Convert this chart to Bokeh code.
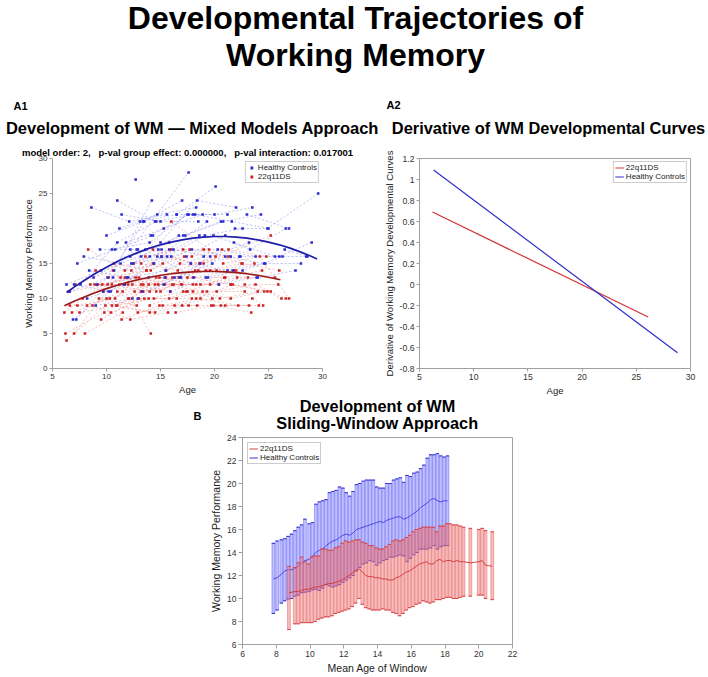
from bokeh.plotting import figure
from bokeh.models import Range1d, FixedTicker, Legend, LegendItem, Label, Title
from bokeh.layouts import column, row
from bokeh.embed import file_html
from bokeh.resources import INLINE

FONT = "Liberation Sans"

# ---------------- A1: longitudinal scores (one inner list per subject) ----------------
hc_age = [
    [6.3, 9.5, 12.8], [6.6, 10.1, 13.5], [6.9, 10.4, 14.0], [7.2, 10.6], [7.3, 10.8, 14.3],
    [7.6, 11.0, 14.6], [7.9, 11.3, 14.8], [8.2, 11.7, 15.1], [8.6, 12.1, 15.6], [8.8, 12.2, 15.8],
    [9.1, 12.5, 16.0], [9.4, 12.9], [9.7, 13.2, 16.7], [10.0, 13.4, 17.0], [12.2, 17.6],
    [10.5, 14.0, 17.5], [10.7, 14.2], [11.0, 14.5, 18.0], [11.2, 14.7, 18.3], [11.4, 15.0, 18.5],
    [11.6, 15.1, 18.6], [11.8, 15.3, 18.9], [12.0, 15.5, 19.0], [12.3, 15.8, 19.3], [12.7],
    [12.9, 16.3, 19.8], [13.1, 16.5, 20.1], [13.3, 16.8], [13.6, 17.1, 20.6], [13.9, 17.4, 21.0],
    [14.1, 17.6, 21.2], [14.4, 17.9, 21.5], [14.7, 18.1, 21.7], [15.0, 18.4, 22.0], [15.3, 18.7, 22.3],
    [15.6, 19.1, 22.6], [15.9, 19.4], [16.2, 19.6, 23.2], [16.5, 20.0, 23.5], [16.9, 20.3, 23.8],
    [17.3, 20.8, 24.3], [17.8, 21.2, 24.7], [18.2, 21.6, 25.0], [21.9, 24.9, 29.6], [19.2, 22.6, 26.3],
    [19.9, 23.3, 26.6], [20.4, 23.9], [21.0, 24.6, 28.0], [21.8, 25.6, 28.5], [22.4, 26.0, 29.0],
    [23.0, 26.9], [9.0, 12.4], [7.0, 10.2], [8.4, 11.9, 15.4], [24.0, 27.5], [26.5, 28.6],
]
hc_wm = [
    [12, 14, 17], [11, 13, 21], [7, 11, 16], [7, 13], [15, 17, 19],
    [12, 18, 21], [16, 15, 17], [10, 12, 17], [23, 21, 22], [13, 16, 18],
    [12, 15, 16], [17, 17], [11, 16, 19], [19, 21, 24], [17, 28],
    [17, 18, 22], [14, 24], [24, 21, 22], [20, 22, 23], [22, 21, 21],
    [12, 16, 19], [18, 20, 22], [13, 14, 16], [15, 17, 21], [27],
    [10, 13, 15], [21, 22, 26], [11, 13], [17, 19, 21], [13, 16, 19],
    [19, 22, 22], [15, 17, 16], [16, 13, 14], [18, 24, 23], [12, 15, 16],
    [16, 19, 20], [11, 13], [17, 16, 18], [22, 22, 23], [13, 17, 16],
    [19, 21, 22], [15, 14, 15], [22, 21, 20], [20, 20, 25], [13, 14, 16],
    [19, 17, 20], [12, 13], [16, 15, 15], [18, 16, 16], [16, 16, 18],
    [22, 20], [9, 10], [12, 11], [14, 13, 13], [13, 14], [17, 16],
]
dz_age = [
    [6.1, 9.6, 13.0], [6.2, 9.8, 13.2], [6.3, 9.9, 13.5], [6.5, 10.1, 13.7], [6.8, 10.3, 13.9],
    [7.0, 10.5, 14.0], [7.3, 10.8, 14.3], [7.5, 11.0, 14.5], [7.8, 11.3, 14.8], [8.0, 11.5],
    [8.3, 11.7, 15.2], [8.5, 12.0, 15.5], [8.7, 12.2, 15.7], [9.0, 12.5, 16.0], [9.2, 12.7, 16.2],
    [9.5, 13.0, 16.5], [9.7, 13.2, 16.7], [10.0, 13.4, 17.0], [10.2, 13.7, 17.2], [10.4, 13.9, 17.4],
    [10.7, 14.1, 17.7], [10.9, 14.4, 17.9], [11.2, 14.6, 18.2], [11.4, 14.9, 18.4], [11.7, 15.1, 18.6],
    [12.0, 15.4, 18.9], [12.3, 16.0, 19.5], [12.6, 16.1, 19.6], [12.9, 16.3, 19.8], [13.2, 16.6, 20.1],
    [13.4, 16.9, 20.4], [12.1, 14.1], [14.0, 17.5, 21.0], [14.3, 17.8, 21.3], [14.6, 18.0, 21.5],
    [14.9, 18.3, 21.8], [15.2, 18.7, 22.2], [15.5, 19.0, 22.5], [15.8, 19.3, 22.8], [16.1, 19.6, 23.1],
    [16.4, 19.9, 23.4], [16.8, 20.2, 23.7], [17.1, 20.5, 24.0], [17.5, 20.9, 24.4], [17.9, 21.3, 24.8],
    [18.3, 21.7, 25.2], [18.7, 22.1, 25.6], [19.2, 22.6, 26.0], [19.7, 23.2], [20.2, 23.8, 26.6],
    [20.8, 24.2, 26.9], [21.5, 24.9, 26.2], [19.0, 25.2], [23.5, 24.5], [6.6, 8.2, 11.5],
    [7.1, 10.6], [9.3, 12.8], [11.0, 14.5, 18.0], [13.6, 17.1, 20.7], [15.0, 18.5, 22.0],
    [17.0, 20.6, 24.1], [18.0, 21.5, 24.6], [8.9, 12.4, 15.9], [10.5, 14.0, 17.6], [21.0],
    [22.8, 25.9],
]
dz_wm = [
    [8, 12, 13], [5, 8, 11], [4, 9, 10], [11, 12, 14], [8, 10, 12],
    [5, 12, 11], [9, 10, 15], [8, 9, 8], [10, 13, 12], [5, 8],
    [17, 14, 15], [12, 12, 13], [9, 7, 8], [14, 15, 17], [12, 13, 12],
    [7, 10, 10], [11, 12, 13], [10, 11, 12], [13, 14, 16], [8, 10, 11],
    [15, 14, 17], [9, 10, 10], [12, 13, 14], [7, 9, 9], [13, 16, 15],
    [10, 12, 11], [14, 21, 17], [11, 13, 14], [8, 9, 10], [15, 14, 16],
    [12, 12, 12], [10, 5], [9, 11, 13], [17, 15, 16], [11, 13, 12],
    [13, 12, 14], [9, 10, 9], [14, 17, 15], [10, 11, 11], [12, 12, 13],
    [8, 9, 8], [15, 14, 15], [11, 10, 11], [13, 13, 14], [16, 17, 16],
    [10, 12, 11], [12, 13, 13], [14, 15, 14], [9, 9], [11, 12, 10],
    [15, 16, 10], [12, 11, 10], [15, 19], [10, 9], [9, 9, 11],
    [12, 14], [10, 9], [11, 12, 12], [16, 17, 17], [11, 14, 14],
    [9, 9, 9], [11, 10, 11], [12, 12, 11], [9, 8, 9], [9],
    [12, 12],
]

# mixed-model fitted curves
hc_fit_age = [6.3, 7, 8, 9, 10, 11, 12, 13, 14, 15, 16, 17, 18, 19, 20, 21, 22, 23, 24, 25, 26, 27, 28, 29, 29.5]
hc_fit_wm = [10.85, 11.62, 12.65, 13.61, 14.48, 15.28, 15.99, 16.63, 17.19, 17.67, 18.06, 18.38, 18.62,
             18.78, 18.86, 18.86, 18.78, 18.62, 18.38, 18.06, 17.67, 17.19, 16.63, 15.99, 15.65]
dz_fit_age = [6.1, 7, 8, 9, 10, 11, 12, 13, 14, 15, 16, 17, 18, 19, 20, 21, 22, 23, 24, 25, 26, 26.1]
dz_fit_wm = [8.96, 9.60, 10.26, 10.86, 11.41, 11.90, 12.33, 12.72, 13.04, 13.32, 13.54, 13.70, 13.81,
             13.86, 13.86, 13.81, 13.70, 13.54, 13.32, 13.04, 12.72, 12.68]

# ---------------- A2: derivative lines ----------------
deriv_dz_age = [6.2, 26.1]
deriv_dz = [0.69, -0.31]
deriv_hc_age = [6.3, 28.8]
deriv_hc = [1.09, -0.65]
a2_yticks = [-0.8, -0.6, -0.4, -0.2, 0, 0.2, 0.4, 0.6, 0.8, 1, 1.2]
a2_ylabels = ["-0.8", "-0.6", "-0.4", "-0.2", "0", "0.2", "0.4", "0.6", "0.8", "1", "1.2"]

# ---------------- B: sliding-window means and ranges ----------------
hc_win_age = [7.83, 8.05, 8.3, 8.5, 8.7, 8.9, 9.1, 9.3, 9.5, 9.7,
              9.95, 10.15, 10.35, 10.55, 10.75, 10.95, 11.15, 11.35, 11.55, 11.75,
              11.95, 12.15, 12.35, 12.55, 12.75, 12.95, 13.15, 13.35, 13.55, 13.75,
              13.95, 14.15, 14.35, 14.55, 14.75, 14.95, 15.15, 15.35, 15.55, 15.75,
              15.95, 16.15, 16.35, 16.55, 16.75, 16.95, 17.15, 17.35, 17.55, 17.75,
              17.95, 18.15]
hc_win_upper = [14.8, 15.0, 15.1, 15.2, 15.4, 15.6, 15.9, 16.2, 16.4, 16.9,
                16.5, 16.6, 18.2, 18.4, 18.5, 18.6, 19.2, 19.3, 19.4, 19.7,
                19.6, 19.2, 18.9, 19.3, 19.9, 20.0, 20.2, 20.3, 20.3, 20.3,
                19.7, 19.6, 19.6, 20.0, 20.0, 20.3, 20.4, 20.5, 20.1, 20.7,
                20.6, 20.9, 21.0, 21.3, 21.6, 22.2, 22.5, 22.5, 22.6, 22.4,
                22.3, 22.4]
hc_win_lower = [8.7, 9.0, 9.6, 9.8, 9.95, 10.0, 10.2, 10.3, 10.5, 10.55,
                10.6, 10.75, 10.8, 10.7, 10.9, 11.2, 11.1, 11.0, 11.1, 11.2,
                11.4, 11.6, 11.8, 12.0, 12.4, 12.7, 13.0, 13.1, 13.3, 13.2,
                12.9, 13.1, 13.3, 13.4, 13.6, 13.6, 13.7, 13.8, 13.7, 13.2,
                13.5, 13.8, 14.0, 14.3, 14.3, 14.3, 14.4, 14.6, 14.3, 14.5,
                14.6, 14.6]
hc_win_mean = [11.7, 11.8, 12.1, 12.4, 12.5, 12.5, 12.6, 12.8, 13.1, 13.3,
               13.4, 13.7, 14.0, 14.2, 14.3, 14.6, 14.8, 15.0, 15.1, 15.3,
               15.5, 15.6, 15.5, 15.7, 16.0, 16.1, 16.2, 16.3, 16.4, 16.5,
               16.6, 16.7, 16.6, 16.8, 16.9, 17.0, 17.1, 17.1, 16.9, 17.0,
               17.2, 17.4, 17.6, 17.9, 18.1, 18.3, 18.6, 18.7, 18.5, 18.4,
               18.5, 18.5]

dz_win_age = [8.75,
              9.1, 9.3, 9.5, 9.7, 9.9, 10.1, 10.3, 10.5, 10.7, 10.9,
              11.1, 11.3, 11.5, 11.7, 11.9, 12.1, 12.3, 12.5, 12.7, 12.9,
              13.1, 13.3, 13.5, 13.7, 13.9, 14.1, 14.3, 14.5, 14.7, 14.9,
              15.1, 15.3, 15.5, 15.7, 15.9, 16.1, 16.3, 16.5, 16.7, 16.9,
              17.1, 17.3, 17.5, 17.7, 17.9, 18.1, 18.3, 18.5, 18.7, 18.9,
              19.1, 19.5, 20.0, 20.2, 20.4, 20.8]
dz_win_upper = [12.8,
                12.7, 13.1, 13.6, 13.2, 13.0, 13.6, 13.7, 13.7, 14.3, 14.3,
                14.2, 14.2, 14.4, 14.5, 14.8, 15.0, 14.9, 15.0, 15.1, 15.1,
                14.9, 14.8, 14.6, 14.6, 14.4, 14.3, 14.3, 14.5, 14.7, 15.0,
                15.1, 15.0, 15.1, 15.3, 15.5, 15.8, 16.0, 16.1, 16.2, 16.2,
                16.2, 16.2, 15.8, 16.3, 16.3, 16.5, 16.5, 16.4, 16.4, 16.3,
                16.2, 16.1, 16.0, 16.1, 15.9, 15.8]
dz_win_lower = [7.3,
                7.8, 7.8, 7.9, 7.9, 7.9, 7.9, 8.0, 8.2, 8.3, 8.4,
                8.4, 8.5, 8.7, 8.8, 8.9, 9.0, 9.1, 9.3, 9.6, 10.0,
                9.5, 9.2, 9.1, 9.0, 9.0, 9.0, 9.1, 9.0, 9.0, 8.8,
                8.7, 8.5, 8.7, 9.0, 9.2, 9.3, 9.5, 9.6, 9.8, 9.7,
                9.6, 9.7, 9.9, 9.9, 10.0, 10.1, 10.1, 10.0, 10.0, 10.1,
                10.2, 10.2, 10.3, 10.3, 10.0, 9.9]
dz_win_mean = [10.5,
               10.6, 10.6, 10.7, 10.8, 10.8, 10.9, 11.0, 11.0, 11.1, 11.2,
               11.3, 11.3, 11.4, 11.5, 11.6, 11.8, 12.0, 12.2, 12.4, 12.6,
               12.3, 12.0, 11.9, 11.9, 11.8, 11.8, 11.7, 11.7, 11.6, 11.6,
               11.8, 11.9, 12.1, 12.3, 12.4, 12.6, 12.8, 13.0, 13.1, 13.2,
               13.0, 13.0, 13.3, 13.4, 13.2, 13.3, 13.3, 13.2, 13.3, 13.2,
               13.2, 13.1, 13.2, 13.3, 12.9, 12.8]

# ---------------- styling helpers ----------------
AX_GRAY = "#a0a0a0"


def style_axis(ax, tick_px, label_px, tick_out=4):
    ax.axis_line_color = AX_GRAY
    ax.major_tick_line_color = AX_GRAY
    ax.minor_tick_line_color = None
    ax.major_tick_out = tick_out
    ax.major_tick_in = 0
    ax.major_label_text_font = FONT
    ax.major_label_text_font_size = f"{tick_px}px"
    ax.major_label_text_color = "#333333"
    ax.major_label_standoff = 2
    ax.axis_label_text_font = FONT
    ax.axis_label_text_font_size = f"{label_px}px"
    ax.axis_label_text_font_style = "normal"
    ax.axis_label_text_color = "#222222"
    ax.axis_label_standoff = 2


def base_fig(**kw):
    p = figure(output_backend="svg", toolbar_location=None, title=None, **kw)
    p.grid.visible = False
    p.background_fill_color = "white"
    p.border_fill_color = "white"
    return p


def text_fig(width, height, y_top, y_bottom, items):
    """Text-only strip; each item is (text, x, baseline_y, font_px, align) in page pixels."""
    f = base_fig(width=width, height=height, x_range=Range1d(0, width),
                 y_range=Range1d(y_bottom, y_top), min_border=0,
                 min_border_left=0, min_border_right=0, min_border_top=0, min_border_bottom=0)
    f.axis.visible = False
    f.outline_line_color = None
    for txt, x, base, size, align in items:
        f.add_layout(Label(x=x, y=base - 0.32 * size, text=txt, text_font=FONT,
                           text_font_size=f"{size}px", text_font_style="bold", text_align=align,
                           text_baseline="alphabetic", text_color="black"))
    f.scatter([x for _, x, _, _, _ in items[:1]], [y for _, _, y, _, _ in items[:1]], size=0, alpha=0)
    return f


def style_legend(lg, font_px):
    lg.label_text_font = FONT
    lg.label_text_font_size = f"{font_px}px"
    lg.label_text_color = "#222222"
    lg.label_height = 7
    lg.glyph_height = 7
    lg.glyph_width = 9
    lg.label_standoff = 2
    lg.spacing = 0
    lg.padding = 1
    lg.margin = 3
    lg.border_line_color = "#999999"
    lg.border_line_width = 1
    lg.background_fill_alpha = 1.0


# ---------------- header (page y 0..140) ----------------
head = text_fig(708, 140, 0, 140, [
    ("Developmental Trajectories of", 355, 28, 32, "center"),
    ("Working Memory", 355, 65, 32, "center"),
    ("A1", 13, 109, 11, "left"),
    ("A2", 386, 108.5, 11, "left"),
    ("Development of WM \u2014 Mixed Models Approach", 192, 133, 16.5, "center"),
    ("Derivative of WM Developmental Curves", 548, 133, 16.4, "center"),
])

# ---------------- A1 ----------------
p1 = base_fig(width=362, height=258, x_range=Range1d(5, 30), y_range=Range1d(0, 30),
              min_border_left=52, min_border_right=40, min_border_top=18, min_border_bottom=28,
              x_axis_label="Age", y_axis_label="Working Memory Performance")
p1.outline_line_color = None
p1.xaxis.ticker = FixedTicker(ticks=[5, 10, 15, 20, 25, 30])
p1.yaxis.ticker = FixedTicker(ticks=[0, 5, 10, 15, 20, 25, 30])
style_axis(p1.xaxis[0], 8, 9.5, tick_out=3)
style_axis(p1.yaxis[0], 8, 9.5, tick_out=3)

p1.multi_line(dz_age, dz_wm, line_color="#e06a6a", line_alpha=0.6, line_width=0.7, line_dash="2 2")
p1.multi_line(hc_age, hc_wm, line_color="#6a6ae6", line_alpha=0.6, line_width=0.7, line_dash="2 2")
dz_pts = p1.scatter([a for s in dz_age for a in s], [w for s in dz_wm for w in s], marker="square",
                    size=2.6, color="#cc2222", line_width=0)
hc_pts = p1.scatter([a for s in hc_age for a in s], [w for s in hc_wm for w in s], marker="square",
                    size=2.6, color="#2b2bd2", line_width=0)
p1.line(dz_fit_age, dz_fit_wm, line_color="#9b1a1a", line_width=1.7)
p1.line(hc_fit_age, hc_fit_wm, line_color="#1e1ea8", line_width=1.7)

lg1 = Legend(items=[LegendItem(label="Healthy Controls", renderers=[hc_pts]),
                    LegendItem(label="22q11DS", renderers=[dz_pts])], location="top_right")
style_legend(lg1, 8)
p1.add_layout(lg1)
p1.add_layout(Title(text="model order: 2,\u00a0\u00a0 p-val group effect: 0.000000,\u00a0\u00a0 p-val interaction: 0.017001",
                    text_font=FONT, text_font_size="9.5px", text_font_style="bold", align="center",
                    standoff=1, text_color="black"), "above")

# ---------------- A2 ----------------
p2 = base_fig(width=346, height=258, x_range=Range1d(5, 30), y_range=Range1d(-0.8, 1.2),
              min_border_left=57, min_border_right=18, min_border_top=17, min_border_bottom=27,
              x_axis_label="Age", y_axis_label="Derivative of Working Memory Developmental Curves")
p2.outline_line_color = AX_GRAY
p2.xaxis.ticker = FixedTicker(ticks=[5, 10, 15, 20, 25, 30])
p2.yaxis.ticker = FixedTicker(ticks=a2_yticks)
p2.yaxis.major_label_overrides = dict(zip(a2_yticks, a2_ylabels))
style_axis(p2.xaxis[0], 8.7, 9.5, tick_out=3)
style_axis(p2.yaxis[0], 8.7, 9.5, tick_out=3)

l_dz = p2.line(deriv_dz_age, deriv_dz, line_color="#d43434", line_width=1.2)
l_hc = p2.line(deriv_hc_age, deriv_hc, line_color="#2e2ec8", line_width=1.2)
lg2 = Legend(items=[LegendItem(label="22q11DS", renderers=[l_dz]),
                    LegendItem(label="Healthy Controls", renderers=[l_hc])], location="top_right")
style_legend(lg2, 8)
p2.add_layout(lg2)

# ---------------- B header (page y 398..433) ----------------
bhead = text_fig(708, 35, 398, 433, [
    ("Development of WM", 377, 411, 16.3, "center"),
    ("Sliding-Window Approach", 377, 428, 16.3, "center"),
    ("B", 193, 419, 11, "left"),
])

# ---------------- B ----------------
p3 = base_fig(width=708, height=244, x_range=Range1d(6, 22), y_range=Range1d(6, 24),
              min_border_left=242, min_border_right=196, min_border_top=4, min_border_bottom=33,
              x_axis_label="Mean Age of Window", y_axis_label="Working Memory Performance")
p3.outline_line_color = AX_GRAY
p3.xaxis.ticker = FixedTicker(ticks=[6, 8, 10, 12, 14, 16, 18, 20, 22])
p3.yaxis.ticker = FixedTicker(ticks=[6, 8, 10, 12, 14, 16, 18, 20, 22, 24])
style_axis(p3.xaxis[0], 8.5, 10.5, tick_out=4)
style_axis(p3.yaxis[0], 8.5, 10.5, tick_out=4)

CAP = 0.1
p3.vbar(x=hc_win_age, bottom=hc_win_lower, top=hc_win_upper, width=0.17,
        fill_color="#8080ff", fill_alpha=0.5, line_color="#5c5cf0", line_alpha=0.75, line_width=0.6)
hc_cap = p3.segment([a - CAP for a in hc_win_age], hc_win_upper, [a + CAP for a in hc_win_age], hc_win_upper,
                    line_color="#3636d0", line_width=1)
p3.segment([a - CAP for a in hc_win_age], hc_win_lower, [a + CAP for a in hc_win_age], hc_win_lower,
           line_color="#3636d0", line_width=1)
p3.line(hc_win_age, hc_win_mean, line_color="#3c3ce0", line_width=0.9)

p3.vbar(x=dz_win_age, bottom=dz_win_lower, top=dz_win_upper, width=0.17,
        fill_color="#f07a7a", fill_alpha=0.5, line_color="#e45c5c", line_alpha=0.75, line_width=0.6)
dz_cap = p3.segment([a - CAP for a in dz_win_age], dz_win_upper, [a + CAP for a in dz_win_age], dz_win_upper,
                    line_color="#d64545", line_width=1)
p3.segment([a - CAP for a in dz_win_age], dz_win_lower, [a + CAP for a in dz_win_age], dz_win_lower,
           line_color="#d64545", line_width=1)
p3.line(dz_win_age, dz_win_mean, line_color="#d03434", line_width=0.9)

lg3 = Legend(items=[LegendItem(label="22q11DS", renderers=[dz_cap]),
                    LegendItem(label="Healthy Controls", renderers=[hc_cap])], location="top_left")
style_legend(lg3, 8)
lg3.margin = 5
p3.add_layout(lg3)

layout = column(row(head), row(p1, p2), row(bhead), row(p3))
open("out.html", "w").write(file_html(layout, INLINE))
